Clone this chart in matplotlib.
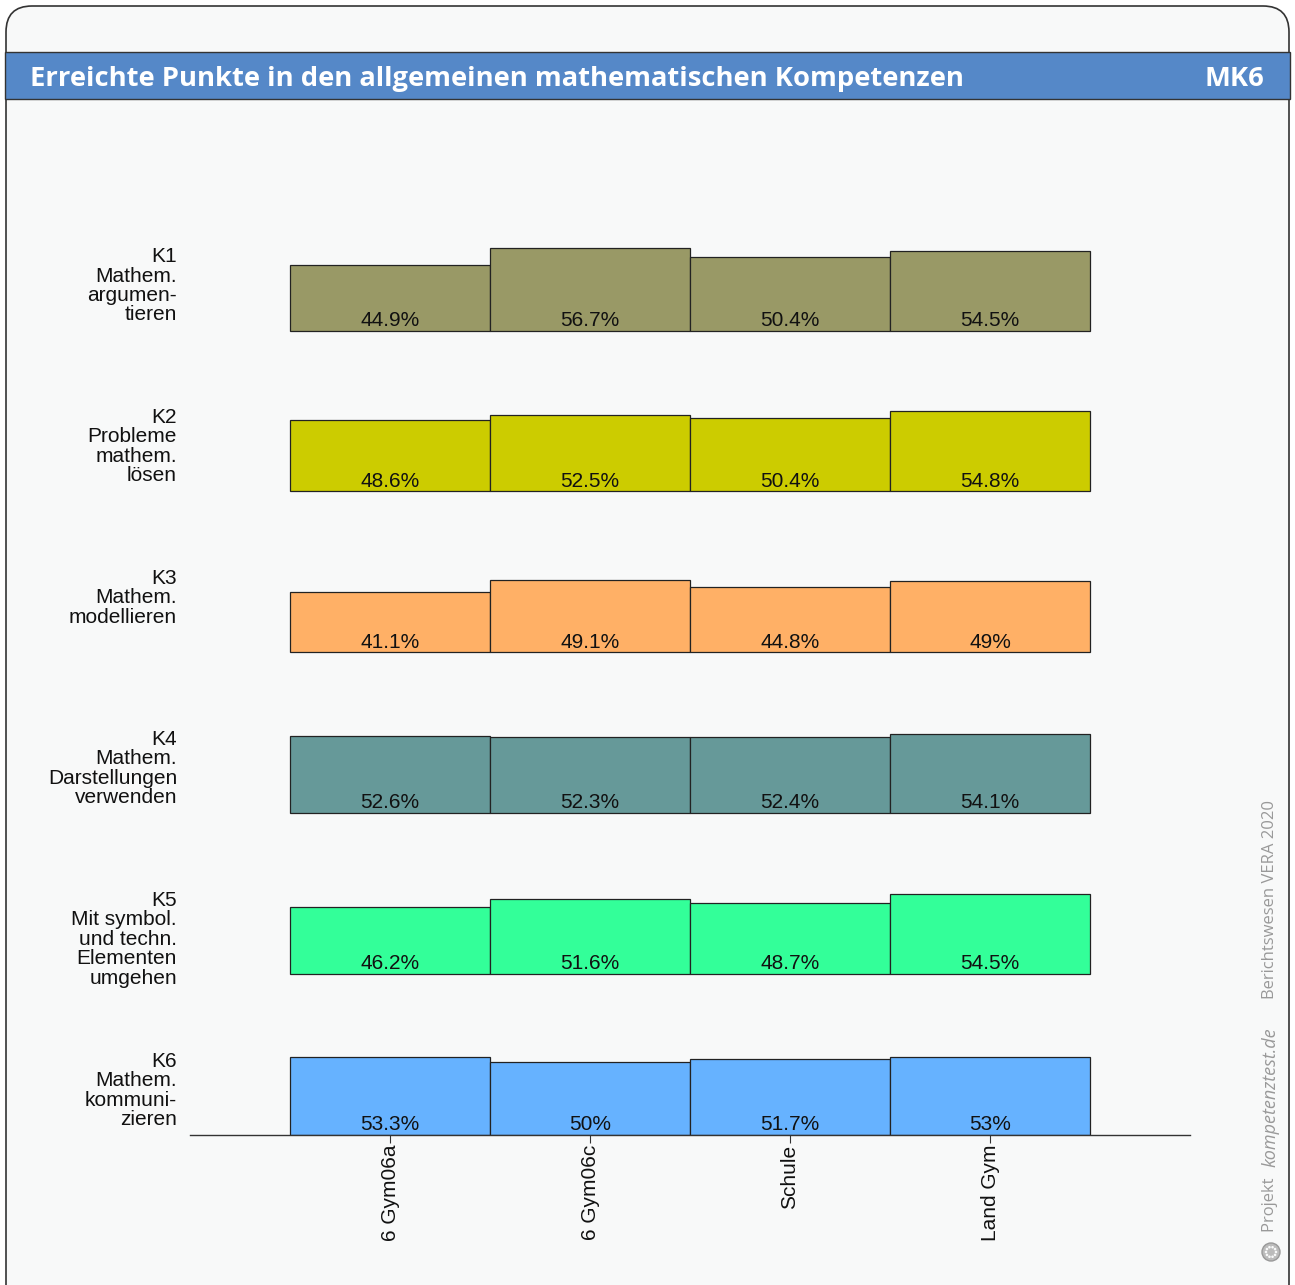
import matplotlib.pyplot as plt
from matplotlib.patches import FancyBboxPatch, Rectangle, Circle
import numpy as np

W, H = 1295, 1285
DPI = 100

# data
groups = ['6 Gym06a', '6 Gym06c', 'Schule', 'Land Gym']
competences = [
    'K1\nMathem.\nargumen-\ntieren',
    'K2\nProbleme\nmathem.\nlösen',
    'K3\nMathem.\nmodellieren',
    'K4\nMathem.\nDarstellungen\nverwenden',
    'K5\nMit symbol.\nund techn.\nElementen\numgehen',
    'K6\nMathem.\nkommuni-\nzieren',
]
values = [
    [44.9, 56.7, 50.4, 54.5],
    [48.6, 52.5, 50.4, 54.8],
    [41.1, 49.1, 44.8, 49.0],
    [52.6, 52.3, 52.4, 54.1],
    [46.2, 51.6, 48.7, 54.5],
    [53.3, 50.0, 51.7, 53.0],
]
colors = ['#999966', '#cccc00', '#ffb066', '#669999', '#33ff99', '#66b2ff']

ROW = 110  # vertical space per competence row, in percent units
FS = 15

fig = plt.figure(figsize=(W / DPI, H / DPI), dpi=DPI)
fig.patch.set_facecolor('white')

# background card with rounded corners
bg = fig.add_axes([0, 0, 1, 1])
bg.set_xlim(0, W)
bg.set_ylim(H, 0)
bg.axis('off')
bg.add_patch(FancyBboxPatch((6, 6), 1283, 1310, boxstyle='round,pad=0,rounding_size=26',
                            facecolor='#f8f9f9', edgecolor='#333333', linewidth=1.2))
bg.add_patch(Rectangle((5, 52), 1285, 47, facecolor='#5588c8', edgecolor='#333333', linewidth=1.0))
bg.text(30, 79, 'Erreichte Punkte in den allgemeinen mathematischen Kompetenzen',
        color='white', fontsize=19.7, fontweight='bold', family='Open Sans', va='center', ha='left')
bg.text(1264, 79, 'MK6', color='white', fontsize=19.7, fontweight='bold', family='Open Sans',
        va='center', ha='right')

# side credits
bg.text(1270, 1232, 'Projekt ', color='#999999', fontsize=12, family='Open Sans',
        rotation=90, ha='center', va='bottom')
bg.text(1270, 1167, 'kompetenztest.de', color='#999999', fontsize=13, family='Open Sans',
        style='italic', rotation=90, ha='center', va='bottom')
bg.text(1270, 999, 'Berichtswesen VERA 2020', color='#999999', fontsize=12, family='Open Sans',
        rotation=90, ha='center', va='bottom')
bg.add_patch(Circle((1271, 1252), 9, facecolor='#bbbbbb', edgecolor='#999999', linewidth=1))
for a in np.linspace(0, 2 * np.pi, 10, endpoint=False):
    bg.add_patch(Circle((1271 + 5 * np.cos(a), 1252 + 5 * np.sin(a)), 1.3, facecolor='#f8f9f9',
                        edgecolor='none'))

# main chart area
left, right, bottom = 190, 1190, 1135
ylim_top = 700
px_per_unit = 1.4627
top = bottom - ylim_top * px_per_unit
ax = fig.add_axes([left / W, 1 - bottom / H, (right - left) / W, (bottom - top) / H])
ax.set_facecolor('none')
ax.set_xlim(0, 5)
ax.set_ylim(0, ylim_top)

x = np.arange(1, len(groups) + 1)
n = len(competences)
for i, (label, vals, col) in enumerate(zip(competences, values, colors)):
    base = (n - 1 - i) * ROW
    ax.bar(x, vals, width=1.0, bottom=base, color=col, edgecolor='#222222', linewidth=0.9)
    for xi, v in zip(x, vals):
        ax.text(xi, base + 0.5, '%g%%' % v, ha='center', va='bottom', fontsize=FS,
                family='Liberation Sans', color='#111111')
    ax.text(-0.065, base + 57, label, ha='right', va='top', fontsize=FS,
            family='Liberation Sans', linespacing=1.03, color='#111111')

for s in ['top', 'right', 'left']:
    ax.spines[s].set_visible(False)
ax.spines['bottom'].set_color('#333333')
ax.spines['bottom'].set_linewidth(1.0)
ax.set_yticks([])
ax.set_xticks(x)
ax.set_xticklabels(groups, rotation=90, fontsize=FS, family='Liberation Sans', color='#111111')
ax.tick_params(axis='x', length=6, color='#333333', pad=1)

fig.savefig('out.png', dpi=DPI)
